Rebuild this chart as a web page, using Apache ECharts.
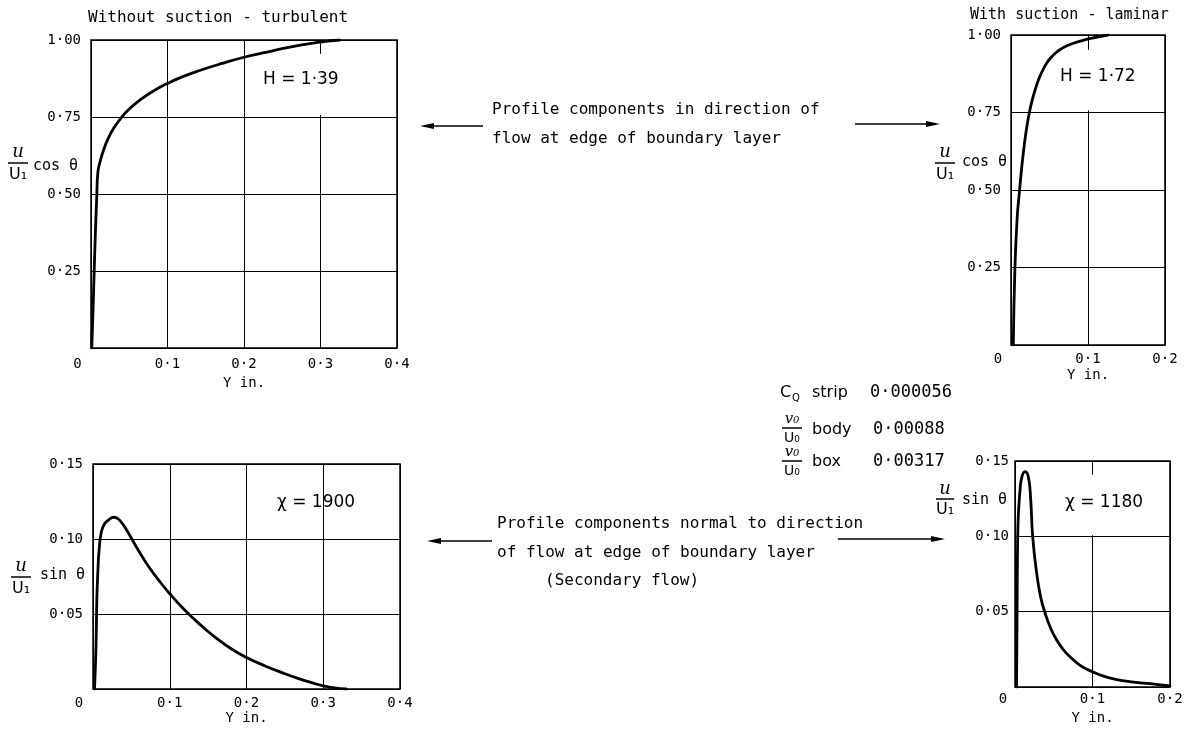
<!DOCTYPE html>
<html>
<head>
<meta charset="utf-8">
<title>Boundary layer profile components</title>
<script src="https://cdn.jsdelivr.net/npm/echarts@6.0.0/dist/echarts.min.js"></script>
<style>
  html, body { margin: 0; padding: 0; background: #fff; }
  #chart { width: 1193px; height: 733px; }
</style>
</head>
<body>
<div id="chart"></div>
<script>
// Distance from the surface, Y (in.), and velocity components for each profile.

// Without suction, turbulent: (u/U1) cos θ
const turbY   = [0.001, 0.003, 0.005, 0.0075, 0.009, 0.012, 0.017, 0.023, 0.030, 0.040, 0.050, 0.064, 0.080, 0.100, 0.120, 0.142, 0.170, 0.200, 0.230, 0.260, 0.290, 0.310, 0.325];
const turbCos = [0.00, 0.15, 0.32, 0.49, 0.571, 0.606, 0.647, 0.683, 0.715, 0.749, 0.776, 0.805, 0.832, 0.859, 0.881, 0.901, 0.923, 0.944, 0.961, 0.977, 0.99, 0.996, 1.00];

// With suction, laminar: (u/U1) cos θ
const lamY   = [0.003, 0.005, 0.008, 0.011, 0.014, 0.017, 0.020, 0.0235, 0.027, 0.031, 0.036, 0.042, 0.051, 0.062, 0.075, 0.090, 0.105, 0.126];
const lamCos = [0.00, 0.24, 0.41, 0.495, 0.575, 0.64, 0.695, 0.745, 0.785, 0.82, 0.857, 0.89, 0.925, 0.95, 0.968, 0.98, 0.99, 1.00];

// Without suction, turbulent: (u/U1) sin θ (secondary flow)
const turbSinY = [0.002, 0.004, 0.005, 0.0065, 0.008, 0.011, 0.015, 0.020, 0.027, 0.031, 0.036, 0.042, 0.050, 0.062, 0.074, 0.088, 0.100, 0.115, 0.131, 0.145, 0.161, 0.180, 0.200, 0.225, 0.250, 0.270, 0.285, 0.300, 0.315, 0.330];
const turbSin  = [0.000, 0.030, 0.060, 0.080, 0.093, 0.105, 0.110, 0.1125, 0.1145, 0.114, 0.1118, 0.1075, 0.1005, 0.090, 0.0805, 0.0710, 0.0635, 0.055, 0.047, 0.0405, 0.0338, 0.0268, 0.021, 0.0152, 0.0102, 0.0066, 0.0042, 0.0021, 0.0007, 0.000];

// With suction, laminar: (u/U1) sin θ (secondary flow)
const lamSinY = [0.002, 0.003, 0.0039, 0.0065, 0.009, 0.0129, 0.0172, 0.0203, 0.0228, 0.028, 0.033, 0.0387, 0.046, 0.0538, 0.062, 0.071, 0.085, 0.0998, 0.115, 0.131, 0.150, 0.170, 0.185, 0.200];
const lamSin  = [0.000, 0.0755, 0.1087, 0.1307, 0.1396, 0.1429, 0.1396, 0.124, 0.0998, 0.0755, 0.060, 0.0493, 0.039, 0.0312, 0.025, 0.0201, 0.014, 0.0102, 0.0070, 0.0049, 0.0034, 0.0024, 0.0016, 0.0008];

// Axis ranges and tick steps
const yRangeMax  = [0.4, 0.2, 0.4, 0.2];
const yStep      = 0.1;
const compMax    = [1.0, 1.0, 0.15, 0.15];
const compStep   = [0.25, 0.25, 0.05, 0.05];
const compDigits = 2;

// Panel captions and parameters
const panelTitles  = ['Without suction - turbulent', 'With suction - laminar'];
const shapeFactors = ['H = 1·39', 'H = 1·72'];
const chiValues    = ['χ = 1900', 'χ = 1180'];
const suctionRows  = [
  { name: 'strip', value: '0·000056' },
  { name: 'body',  value: '0·00088' },
  { name: 'box',   value: '0·00317' }
];
const noteTop    = ['Profile components in direction of', 'flow at edge of boundary layer'];
const noteBottom = ['Profile components normal to direction', 'of flow at edge of boundary layer', '(Secondary flow)'];

const SANS  = "'DejaVu Sans', 'Liberation Sans', sans-serif";
const MONO  = "'DejaVu Sans Mono', 'Liberation Mono', monospace";
const SERIF = "'DejaVu Serif', 'Liberation Serif', serif";
const INK = '#000';

const pairs = (xs, ys) => xs.map((x, i) => [x, ys[i]]);
const dotted = (v, d) => v.toFixed(d).replace('.', '·');

// Plot rectangles, in px
const grids = [
  { left: 91,   top: 40,  width: 306, height: 308 },
  { left: 1011, top: 35,  width: 154, height: 310 },
  { left: 93,   top: 464, width: 307, height: 225 },
  { left: 1015, top: 461, width: 155, height: 226 }
];
const xLabelMargin = [9, 7, 7, 5];
const xNameGap     = [28, 23, 22, 24];
const zeroShift    = [27, 26, 28, 24];
const yLabelMargin = [10, 10, 10, 6];

const xAxes = grids.map((g, i) => ({
  type: 'value', gridIndex: i, min: 0, max: yRangeMax[i], interval: yStep,
  axisLine: { show: false }, axisTick: { show: false },
  splitLine: { show: true, lineStyle: { color: INK, width: 1 } },
  axisLabel: {
    margin: xLabelMargin[i], color: INK, fontSize: 14, fontFamily: MONO,
    formatter: v => v === 0 ? '{z|0}' : dotted(v, 1),
    rich: { z: { fontSize: 14, fontFamily: MONO, color: INK, padding: [0, zeroShift[i], 0, 0] } }
  },
  name: 'Y in.', nameLocation: 'middle', nameGap: xNameGap[i],
  nameTextStyle: { color: INK, fontSize: 14, fontFamily: MONO }
}));

const yAxes = grids.map((g, i) => ({
  type: 'value', gridIndex: i, min: 0, max: compMax[i], interval: compStep[i],
  axisLine: { show: false }, axisTick: { show: false },
  splitLine: { show: true, lineStyle: { color: INK, width: 1 } },
  axisLabel: {
    margin: yLabelMargin[i], color: INK, fontSize: 14, fontFamily: MONO,
    formatter: v => v === 0 ? '' : dotted(v, compDigits)
  }
}));

// White patches that break the vertical grid line behind the parameter labels
const gapPatch = (x0, x1, y0, y1) => ({
  silent: true,
  itemStyle: { color: '#fff', borderWidth: 0 },
  label: { show: false },
  data: [[{ coord: [x0, y0] }, { coord: [x1, y1] }]]
});

const curve = (i, data, gap) => ({
  type: 'line', xAxisIndex: i, yAxisIndex: i, data,
  showSymbol: false, symbol: 'none', smooth: 0.5,
  lineStyle: { color: INK, width: 2.8, join: 'round', cap: 'round' },
  silent: true, animation: false,
  markArea: gap || undefined
});

const series = [
  curve(0, pairs(turbY, turbCos),      gapPatch(0.296, 0.304, 0.757, 0.955)),
  curve(1, pairs(lamY, lamCos),        gapPatch(0.096, 0.104, 0.757, 0.952)),
  curve(2, pairs(turbSinY, turbSin)),
  curve(3, pairs(lamSinY, lamSin),     gapPatch(0.096, 0.104, 0.1007, 0.141))
];

// ---- annotation helpers ----
function txt(x, y, text, size, extra) {
  return {
    type: 'text', x, y, z: 100, silent: true,
    style: Object.assign({
      text, fontSize: size, fontFamily: MONO, fill: INK,
      align: 'left', verticalAlign: 'middle', textAlign: 'left', textVerticalAlign: 'middle'
    }, extra || {})
  };
}
function hline(x1, x2, y, w) {
  return { type: 'line', z: 100, silent: true, shape: { x1, y1: y, x2, y2: y }, style: { stroke: INK, lineWidth: w || 1.4 } };
}
// numerator / bar / denominator, centred on cx with the bar at y
function fraction(cx, y, halfW, num, den, up, down, numSize, denSize) {
  return [
    txt(cx, y - up, num, numSize, { fontFamily: SERIF, fontStyle: 'italic', align: 'center', textAlign: 'center' }),
    hline(cx - halfW, cx + halfW, y, 1.5),
    txt(cx, y + down, den, denSize, { fontFamily: SANS, align: 'center', textAlign: 'center' })
  ];
}
function arrow(xTail, xHead, y) {
  const dir = xHead > xTail ? 1 : -1;
  return [
    hline(xTail, xHead - dir * 6, y, 1.4),
    { type: 'polygon', z: 100, silent: true,
      shape: { points: [[xHead, y], [xHead - dir * 14, y - 3], [xHead - dir * 14, y + 3]] },
      style: { fill: INK } }
  ];
}

const graphics = [
  // panel captions
  txt(88, 18, panelTitles[0], 16),
  txt(970, 15, panelTitles[1], 15),
  // parameters inside panels
  txt(263, 80, shapeFactors[0], 17, { fontFamily: SANS }),
  txt(1060, 77, shapeFactors[1], 17, { fontFamily: SANS }),
  txt(277, 503, chiValues[0], 17, { fontFamily: SANS }),
  txt(1065, 503, chiValues[1], 17, { fontFamily: SANS }),
  // component axis titles
  ...fraction(18, 163, 10, 'u', 'U₁', 11, 12, 18, 16), txt(33, 166, 'cos θ', 15),
  ...fraction(945, 163, 10, 'u', 'U₁', 11, 12, 18, 16), txt(962, 162, 'cos θ', 15),
  ...fraction(21, 577, 10, 'u', 'U₁', 11, 12, 18, 16), txt(40, 575, 'sin θ', 15),
  ...fraction(945, 499, 9, 'u', 'U₁', 10, 11, 18, 16), txt(962, 500, 'sin θ', 15),
  // suction quantities
  txt(780, 393, 'C', 16, { fontFamily: SANS }), txt(792, 398, 'Q', 10, { fontFamily: SANS }),
  txt(812, 393, suctionRows[0].name, 16, { fontFamily: SANS }), txt(870, 393, suctionRows[0].value, 17),
  ...fraction(792, 428, 10, 'v₀', 'U₀', 9, 10, 15, 14),
  txt(812, 430, suctionRows[1].name, 16, { fontFamily: SANS }), txt(873, 430, suctionRows[1].value, 17),
  ...fraction(792, 461, 10, 'v₀', 'U₀', 9, 10, 15, 14),
  txt(812, 462, suctionRows[2].name, 16, { fontFamily: SANS }), txt(873, 462, suctionRows[2].value, 17),
  // direction notes with arrows
  txt(492, 110, noteTop[0], 16), txt(492, 139, noteTop[1], 16),
  ...arrow(483, 420, 126), ...arrow(855, 940, 124),
  txt(497, 524, noteBottom[0], 16), txt(497, 553, noteBottom[1], 16), txt(545, 581, noteBottom[2], 16),
  ...arrow(492, 427, 541), ...arrow(838, 945, 539)
];

const chart = echarts.init(document.getElementById('chart'), null, { renderer: 'canvas' });
chart.setOption({
  backgroundColor: '#fff',
  animation: false,
  grid: grids.map(g => Object.assign({ show: true, borderColor: INK, borderWidth: 1.5, backgroundColor: 'transparent', containLabel: false }, g)),
  xAxis: xAxes,
  yAxis: yAxes,
  series,
  graphic: { elements: graphics }
});
</script>
</body>
</html>
